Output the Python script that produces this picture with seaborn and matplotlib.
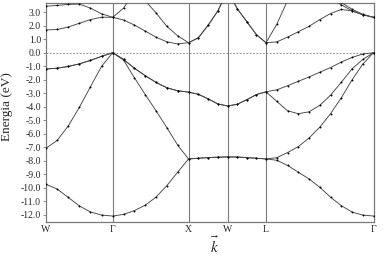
import numpy as np
import pandas as pd
import matplotlib
matplotlib.use("Agg")
import matplotlib.pyplot as plt
import seaborn as sns

nan = np.nan

# high-symmetry points along the path (positions) and labels
kpoint_labels = ["W", "Γ", "X", "W", "L", "Γ"]
kpoint_pos = [0.0, 66.7, 142.5, 181.7, 220.0, 327.5]
seg_divisions = [6, 7, 4, 4, 10]

# band energies (eV) sampled along W-Γ-X-W-L-Γ
band1 = [-9.75, -10.1, -10.72, -11.35, -11.8, -12.03, -12.1,
         -11.98, -11.7, -11.3, -10.7, -9.85, -8.85, -7.87,
         -7.82, -7.77, -7.74, -7.72,
         -7.73, -7.77, -7.82, -7.87,
         -7.97, -8.35, -8.85, -9.35, -9.97, -10.7, -11.33, -11.8, -12.03, -12.1]
band2 = [-7.08, -6.5, -5.43, -4.05, -2.52, -1.01, 0.0,
         -0.55, -1.85, -3.1, -4.3, -5.55, -6.85, -7.87,
         -7.82, -7.77, -7.74, -7.72,
         -7.73, -7.77, -7.82, -7.87,
         -7.78, -7.4, -6.96, -6.32, -5.52, -4.52, -3.35, -2.02, -0.85, 0.0]
band3 = [-1.21, -1.15, -1.02, -0.83, -0.57, -0.27, 0.0,
         -0.5, -1.15, -1.7, -2.2, -2.6, -2.82, -2.92,
         -3.08, -3.42, -3.8, -3.95,
         -3.82, -3.48, -3.1, -2.9,
         -3.6, -4.3, -4.52, -4.38, -3.9, -3.15, -2.2, -1.2, -0.5, 0.0]
band4 = [-1.21, -1.15, -1.02, -0.83, -0.57, -0.27, 0.0,
         -0.5, -1.15, -1.7, -2.2, -2.6, -2.82, -2.92,
         -3.08, -3.42, -3.8, -3.95,
         -3.82, -3.48, -3.1, -2.9,
         -2.75, -2.45, -2.12, -1.8, -1.45, -1.1, -0.7, -0.35, -0.1, 0.0]
band5 = [1.68, 1.72, 1.9, 2.18, 2.45, 2.63, 2.62,
         2.42, 2.05, 1.6, 1.15, 0.8, 0.65, 0.74,
         1.1, 2.03, 3.1, 4.6,
         3.25, 2.3, 1.33, 0.74,
         0.8, 1.15, 1.55, 1.95, 2.45, 2.9, 3.2, 3.1, 2.82, 2.62]
band6 = [3.44, 3.5, 3.58, 3.6, 3.3, 2.88, 2.62,
         3.3, 4.5, nan, nan, nan, nan, nan,
         nan, nan, nan, nan,
         nan, nan, nan, nan,
         nan, nan, nan, nan, nan, 4.3, 3.72, 3.22, 2.85, 2.62]
band7 = [nan, nan, nan, nan, nan, nan, nan,
         nan, 4.95, 3.85, 2.95, 1.95, 1.25, 0.74,
         1.1, 2.03, 3.1, 4.6,
         3.25, 2.3, 1.33, 0.74,
         2.1, 3.85, nan, nan, nan, 3.95, 3.55, 3.1, 2.8, 2.62]

yticks = [3, 2, 1, 0, -1, -2, -3, -4, -5, -6, -7, -8, -9, -10, -11, -12]

# k grid along the path
k = [kpoint_pos[0]]
for i, n in enumerate(seg_divisions):
    k.extend(np.linspace(kpoint_pos[i], kpoint_pos[i + 1], n + 1)[1:])
k = np.array(k)

rows = []
seg_id = 0
for bi, band in enumerate([band1, band2, band3, band4, band5, band6, band7]):
    e = np.array(band, dtype=float)
    prev_ok = False
    for kk, ee in zip(k, e):
        ok = not np.isnan(ee)
        if ok and not prev_ok:
            seg_id += 1
        if ok:
            rows.append({"k": kk, "E": ee, "seg": seg_id})
        prev_ok = ok
df = pd.DataFrame(rows)

sns.set_theme(style="ticks")
plt.rcParams["font.family"] = ["Liberation Serif", "DejaVu Serif"]
plt.rcParams["mathtext.fontset"] = "stix"

fig = plt.figure(figsize=(3.84, 2.59), dpi=100)
ax = fig.add_axes([46 / 384, 1 - 221.7 / 259, 327.5 / 384, 218.7 / 259])

for kp in kpoint_pos[1:-1]:
    ax.axvline(kp, color="#7a7a7a", lw=0.8, zorder=1)
ax.axhline(0, color="#7a7a7a", lw=0.6, ls=(0, (2, 2)), zorder=1)

sns.lineplot(data=df, x="k", y="E", units="seg", estimator=None, sort=True,
             color="#454545", lw=0.65, marker="o", markersize=1.4,
             markerfacecolor="black", markeredgecolor="black",
             markeredgewidth=0, legend=False, ax=ax, zorder=3)

ax.set_xlim(kpoint_pos[0], kpoint_pos[-1])
ax.set_ylim(-12.52, 3.68)
ax.set_xticks(kpoint_pos)
ax.set_xticklabels(kpoint_labels, fontsize=7)
ax.set_yticks(yticks)
ax.set_yticklabels([f"{v:.1f}" for v in yticks], fontsize=7)
ax.tick_params(axis="x", length=0, pad=2.5)
ax.tick_params(axis="y", length=2.5, width=0.6, pad=1, color="#7a7a7a")
for s in ax.spines.values():
    s.set_color("#7a7a7a")
    s.set_linewidth(0.9)

ax.set_xlabel("")
ax.set_ylabel("Energia (eV)", fontsize=9.5)
ax.yaxis.set_label_coords(-0.1, 0.527)
fig.text(215 / 384, 1 - 245 / 259, r"$\vec{k}$", fontsize=11, ha="center", va="center")

fig.savefig("out.png", dpi=100)
